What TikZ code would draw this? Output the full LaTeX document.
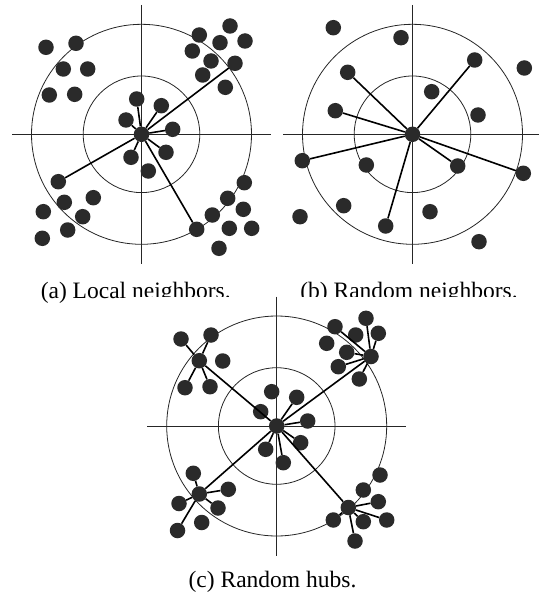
\documentclass[tikz,border=0pt]{standalone}
\usepackage{fontspec}
\setmainfont{Liberation Serif}
\definecolor{dotgray}{HTML}{2A2A2A}
\usetikzlibrary{positioning}
\tikzset{
  dot/.style={circle, fill=dotgray, minimum size=15.5pt, inner sep=0pt},
  edge/.style={line width=1.6pt, color=black},
  guide/.style={line width=0.8pt, color=black!85},
  capt/.style={font=\fontsize{23.5}{28}\selectfont, anchor=base, inner sep=0pt},
}
\begin{document}
\begin{tikzpicture}[x=1pt,y=-1pt]
\useasboundingbox (0,0) rectangle (538,596);
% centres of the three panels
\coordinate (ca) at (141.5,134.3);
\coordinate (cb) at (412.5,134.3);
\coordinate (cc) at (276.7,426);
\foreach \c in {ca,cb,cc}{
  \draw[guide] (\c) circle [radius=110pt];
  \draw[guide] (\c) circle [radius=58.3pt];
  \draw[guide] (\c) ++(-129.5,0) -- ++(259,0);
  \draw[guide] (\c) ++(0,-129.5) -- ++(0,259);
}
% (a) local neighbors
\node[dot] (a0) at (ca) {};
\foreach \n/\x/\y in {a1/136.7/99, a2/161.3/105.7, a3/126/120, a4/172.7/129.3,
  a5/131/157.3, a6/166/152.3, a7/148.3/171, a8/235/63.3, a9/58.3/181.7, a10/196.7/229.3,
  a11/46/47.3, a12/76/43.3, a13/63.3/69, a14/87.7/69, a15/49.3/95, a16/74.7/94.3,
  a17/199.3/35, a18/230/26, a19/220/42.7, a20/245/41, a21/192.3/51, a22/211/61,
  a23/202.7/75, a24/225.3/87.3,
  a25/64.3/202.3, a26/93.3/197.7, a27/43.3/211.7, a28/82.7/216.7, a29/67.7/230, a30/42.3/238.3,
  a31/244.3/182.7, a32/227.7/198.3, a33/243.3/209.3, a34/212.3/215, a35/229.3/228.3,
  a36/251.7/228.3, a37/219/248.3}
  \node[dot] (\n) at (\x,\y) {};
\foreach \n in {a1,a2,a3,a4,a5,a6,a8,a9,a10}
  \draw[edge] (a0) -- (\n);
% (b) random neighbors
\node[dot] (b0) at (cb) {};
\foreach \n/\x/\y in {b1/333.3/27.7, b2/401/37.7, b3/474.7/60, b4/524.3/68, b5/347.7/72.3,
  b6/431.7/91.7, b7/335.3/110.7, b8/478/115, b9/302.3/160.7, b10/366.3/165, b11/457.7/166,
  b12/523.3/173.3, b13/343.7/205.7, b14/300/216.7, b15/430/211.7, b16/385.7/226, b17/479/241.7}
  \node[dot] (\n) at (\x,\y) {};
\foreach \n in {b3,b5,b7,b9,b11,b12,b16}
  \draw[edge] (b0) -- (\n);
% (c) random hubs
\node[dot] (c0) at (cc) {};
\foreach \n/\x/\y in {c1/271.7/391.7, c2/296.7/397.3, c3/260.7/411.7, c4/307.7/421,
  c5/300.7/442.7, c6/265.7/449.3, c7/283.3/462.7,
  h1/199.3/360.7, h2/371/356.5, h3/199.3/494, h4/348.3/507.5,
  p1/181/339, p2/211/335, p3/222.7/361, p4/185/387.7, p5/210/386.7,
  q1/335/326.7, q2/366/318.3, q3/378.3/333.3, q4/355.7/335, q5/326.7/343.3,
  q6/346.7/352.3, q7/338.3/366.7, q8/359.3/379,
  r1/193.3/473.3, r2/228.3/489.3, r3/179/503.5, r4/218/508, r5/201.7/522.5, r6/177.5/530.5,
  s1/380/475, s2/363.3/490, s3/378.3/501.7, s4/333.3/520, s5/363.3/521.7, s6/386.7/520, s7/355/541}
  \node[dot] (\n) at (\x,\y) {};
\foreach \n in {c2,c4,c5,c6,c7,h1,h2,h3,h4}
  \draw[edge] (c0) -- (\n);
\foreach \h/\n in {h1/p1,h1/p2,h1/p4,h1/p5,
  h2/q1,h2/q2,h2/q3,h2/q6,h2/q7,h2/q8,
  h3/r1,h3/r2,h3/r3,h3/r4,h3/r6,
  h4/s3,h4/s4,h4/s5,h4/s6,h4/s7}
  \draw[edge] (\h) -- (\n);
% captions, cut off below by panel (c)
\begin{scope}
  \clip (0,0) -- (538,0) -- (538,296) -- (130,296) -- (130,330) -- (0,330) -- cycle;
  \node[capt] (capa) at (135.7,298.3) {(a) Local neighbors.};
  \node[capt] (capb) at (409,298.3) {(b) Random neighbors.};
\end{scope}
\node[capt] (capc) at (272.5,587.7) {(c) Random hubs.};
\end{tikzpicture}
\end{document}
